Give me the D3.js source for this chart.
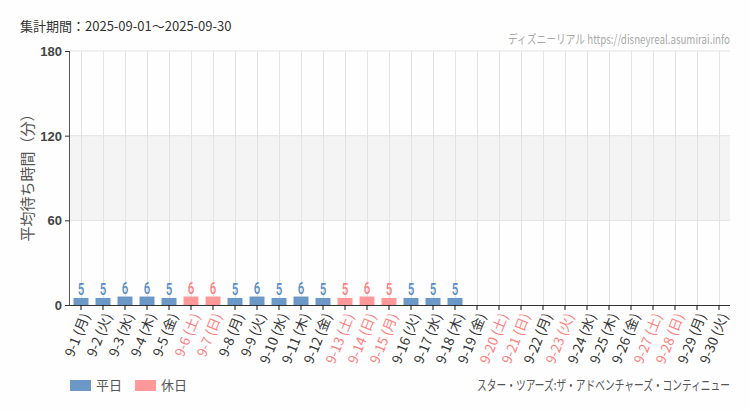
<!DOCTYPE html>
<html><head><meta charset="utf-8">
<script src="https://cdn.jsdelivr.net/npm/d3@7"></script>
<style>
body{margin:0;background:#fdfefd;}
svg{display:block;}
text{font-family:"Noto Sans CJK JP","Noto Sans",sans-serif;}
</style></head>
<body>
<svg id="c" width="750" height="410"></svg>
<script>
const days = ["9-1","9-2","9-3","9-4","9-5","9-6","9-7","9-8","9-9","9-10","9-11","9-12","9-13","9-14","9-15","9-16","9-17","9-18","9-19","9-20","9-21","9-22","9-23","9-24","9-25","9-26","9-27","9-28","9-29","9-30"];
const weekdays = ["月","火","水","木","金","土","日","月","火","水","木","金","土","日","月","火","水","木","金","土","日","月","火","水","木","金","土","日","月","火"];
const holiday = [0,0,0,0,0,1,1,0,0,0,0,0,1,1,1,0,0,0,0,1,1,0,1,0,0,0,1,1,0,0];
const values = [5,5,6,6,5,6,6,5,6,5,6,5,5,6,5,5,5,5,null,null,null,null,null,null,null,null,null,null,null,null];
const yTicks = [0,60,120,180];
const legendLabels = ["平日","休日"];
const titleText = "集計期間：2025-09-01～2025-09-30";
const sourceText = "ディズニーリアル https://disneyreal.asumirai.info";
const attractionText = "スター・ツアーズ:ザ・アドベンチャーズ・コンティニュー";
const yLabel = "平均待ち時間（分）";

const C_WD = "#6b98c6", C_HD = "#ff9999", C_WD_T = "#5b8cc0", C_HD_T = "#ff8080";
const svg = d3.select("#c");
const m = {l:70, r:730, t:51, b:305};
const x = d3.scaleBand().domain(days).range([m.l, m.r]).paddingInner(0.32).paddingOuter(0.16);
const y = d3.scaleLinear().domain([0,180]).range([m.b, m.t]);

function squeeze(sel, sx){
  sel.each(function(){
    const t = d3.select(this);
    const ax = +t.attr("x"), ay = +t.attr("y");
    t.attr("transform", `translate(${ax},${ay}) scale(${sx},1) translate(${-ax},${-ay})`);
  });
}

// band 60-120
svg.append("rect").attr("x", m.l).attr("width", m.r - m.l)
  .attr("y", y(120)).attr("height", y(60) - y(120)).attr("fill", "#f3f4f3");
// horizontal grid
svg.append("g").selectAll("line").data(yTicks.filter(d=>d>0)).join("line")
  .attr("x1", m.l).attr("x2", m.r).attr("y1", d=>y(d)).attr("y2", d=>y(d))
  .attr("stroke", "#e3e3e3").attr("stroke-width", 1);
// vertical grid
svg.append("g").selectAll("line").data(days).join("line")
  .attr("x1", d=>x(d)+x.bandwidth()/2+0.5).attr("x2", d=>x(d)+x.bandwidth()/2+0.5)
  .attr("y1", m.t).attr("y2", m.b).attr("stroke", "#e3e3e3").attr("stroke-width", 1);

// bars
const data = days.map((d,i)=>({d, v: values[i], h: holiday[i], w: weekdays[i]}));
svg.append("g").selectAll("rect").data(data.filter(e=>e.v!=null)).join("rect")
  .attr("x", e=>x(e.d)).attr("width", x.bandwidth())
  .attr("y", e=>y(e.v)).attr("height", e=>y(0)-y(e.v))
  .attr("fill", e=>e.h?C_HD:C_WD);
svg.append("g").selectAll("text").data(data.filter(e=>e.v!=null)).join("text")
  .attr("x", e=>x(e.d)+x.bandwidth()/2).attr("y", e=>y(e.v)-3)
  .attr("text-anchor","middle").attr("font-size", 16).attr("font-weight", 500)
  .style("font-family", "Roboto,sans-serif")
  .attr("fill", e=>e.h?C_HD_T:C_WD_T).text(e=>e.v)
  .call(squeeze, 0.72);

// y axis
const ya = svg.append("g").attr("transform", `translate(${m.l},0)`)
  .call(d3.axisLeft(y).tickValues(yTicks).tickSize(5).tickPadding(3));
ya.select(".domain").attr("stroke", "#555").attr("d", `M-0.5,${m.t}V${m.b}`);
ya.selectAll(".tick line").attr("stroke", "#333");
ya.selectAll(".tick text").attr("font-size", 13).attr("fill", "#444")
  .style("font-family", "'Liberation Sans',sans-serif").attr("font-weight", "bold").attr("dy","0.35em");

// x axis
const xa = svg.append("g").attr("transform", `translate(0,${m.b})`)
  .call(d3.axisBottom(x).tickSize(5).tickFormat(""));
xa.select(".domain").attr("stroke", "#333").attr("d", `M${m.l},0.5H${m.r}`);
xa.selectAll(".tick line").attr("stroke", "#111");
svg.append("g").selectAll("text").data(data).join("text")
  .attr("transform", e=>`translate(${x(e.d)+x.bandwidth()/2+5},${m.b+9}) rotate(-68)`)
  .attr("text-anchor","end").attr("dy","0.35em").attr("font-size", 13.5)
  .attr("fill", e=>e.h?C_HD_T:"#333")
  .text(e=>`${e.d} (${e.w})`);

// y label
svg.append("text").attr("transform", `translate(33,174) rotate(-90)`)
  .attr("text-anchor","middle").attr("font-size", 15).attr("fill", "#555").text(yLabel);

// title
svg.append("text").attr("x", 20).attr("y", 31).attr("font-size", 13).attr("fill", "#333").text(titleText);
svg.append("text").attr("x", 730).attr("y", 44).attr("text-anchor","end").attr("font-size", 12.5)
  .attr("fill", "#aaa").text(sourceText).call(squeeze, 0.78);

// legend
const lg = svg.append("g");
legendLabels.forEach((t,i)=>{
  const lx = 70 + i*65;
  lg.append("rect").attr("x", lx).attr("y", 380).attr("width", 21).attr("height", 11).attr("fill", i?C_HD:C_WD);
  lg.append("text").attr("x", lx+26).attr("y", 390).attr("font-size", 13).attr("fill", "#555").text(t);
});
svg.append("text").attr("x", 730).attr("y", 390).attr("text-anchor","end").attr("font-size", 13.5)
  .attr("fill", "#555").text(attractionText).call(squeeze, 0.72);
</script>
</body></html>
